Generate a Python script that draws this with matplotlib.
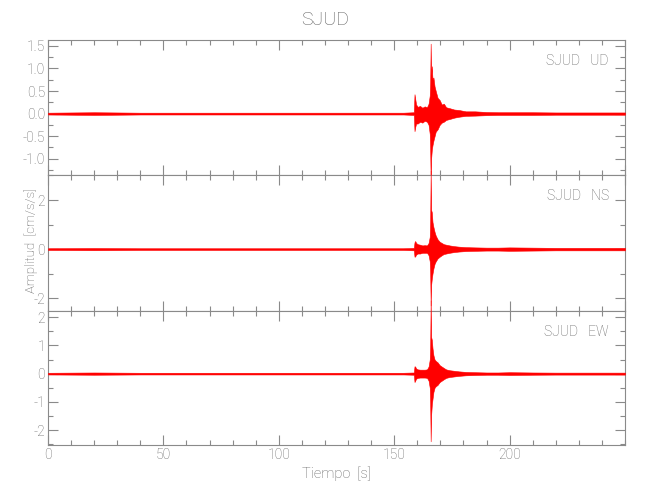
import matplotlib
matplotlib.use('Agg')
import matplotlib.pyplot as plt
from matplotlib.ticker import MultipleLocator, FormatStrFormatter

# ---- data (envelope of each trace) ----
time_s = [0, 10, 20, 30, 40, 50, 60, 70, 80, 90, 100, 110, 120, 130, 140, 150,
          154, 158.5, 158.8, 159.1, 159.5, 160.2, 161.2, 162.2, 163.2, 164.2, 164.9,
          165.4, 165.6, 165.8, 166.0, 166.3, 166.6, 167.0,
          167.5, 168.0, 168.8, 169.7, 170.6, 171.5, 172.5, 174, 176, 178, 181, 185,
          190, 195, 200, 210, 220, 230, 240, 250]

ud_upper = [0.02, 0.025, 0.03, 0.025, 0.02, 0.02, 0.02, 0.02, 0.02, 0.02, 0.02, 0.02, 0.02, 0.02, 0.02, 0.02,
            0.02, 0.03, 0.43, 0.33, 0.2, 0.15, 0.17, 0.13, 0.16, 0.14, 0.22,
            0.4, 0.7, 1.55, 0.85, 1.05, 0.75, 0.8,
            0.6, 0.5, 0.35, 0.3, 0.2, 0.22, 0.14, 0.12, 0.09, 0.08, 0.05, 0.05,
            0.035, 0.03, 0.03, 0.03, 0.025, 0.025, 0.025, 0.025]
ud_lower = [-0.02, -0.025, -0.03, -0.025, -0.02, -0.02, -0.02, -0.02, -0.02, -0.02, -0.02, -0.02, -0.02, -0.02, -0.02, -0.02,
            -0.02, -0.03, -0.39, -0.3, -0.22, -0.22, -0.18, -0.2, -0.16, -0.18, -0.25,
            -0.45, -0.8, -1.5, -1.0, -0.8, -0.7, -0.6,
            -0.5, -0.4, -0.35, -0.25, -0.2, -0.18, -0.14, -0.12, -0.09, -0.07, -0.05, -0.045,
            -0.035, -0.03, -0.03, -0.03, -0.025, -0.025, -0.025, -0.025]

ns_upper = [0.035, 0.04, 0.045, 0.04, 0.035, 0.035, 0.035, 0.035, 0.035, 0.035, 0.035, 0.035, 0.035, 0.035, 0.035, 0.035,
            0.035, 0.05, 0.28, 0.33, 0.25, 0.2, 0.18, 0.15, 0.16, 0.15, 0.25,
            0.5, 1.2, 3.2, 1.6, 1.5, 1.1, 0.9,
            0.7, 0.55, 0.4, 0.3, 0.25, 0.2, 0.18, 0.15, 0.12, 0.1, 0.08, 0.07,
            0.06, 0.06, 0.07, 0.06, 0.05, 0.05, 0.05, 0.05]
ns_lower = [-0.035, -0.04, -0.045, -0.04, -0.035, -0.035, -0.035, -0.035, -0.035, -0.035, -0.035, -0.035, -0.035, -0.035, -0.035, -0.035,
            -0.035, -0.05, -0.31, -0.3, -0.22, -0.18, -0.18, -0.15, -0.15, -0.15, -0.25,
            -0.5, -1.0, -2.3, -1.47, -1.2, -1.0, -0.79,
            -0.6, -0.5, -0.38, -0.31, -0.25, -0.2, -0.18, -0.15, -0.12, -0.1, -0.08, -0.07,
            -0.06, -0.06, -0.07, -0.06, -0.05, -0.05, -0.05, -0.05]

ew_upper = [0.03, 0.035, 0.04, 0.035, 0.03, 0.03, 0.03, 0.03, 0.03, 0.03, 0.03, 0.03, 0.03, 0.03, 0.03, 0.03,
            0.03, 0.04, 0.26, 0.25, 0.18, 0.15, 0.14, 0.14, 0.14, 0.15, 0.25,
            0.5, 1.0, 2.6, 1.3, 1.2, 0.9, 0.65,
            0.5, 0.45, 0.4, 0.3, 0.25, 0.2, 0.15, 0.12, 0.1, 0.08, 0.06, 0.05,
            0.04, 0.04, 0.05, 0.04, 0.035, 0.035, 0.035, 0.035]
ew_lower = [-0.03, -0.035, -0.04, -0.035, -0.03, -0.03, -0.03, -0.03, -0.03, -0.03, -0.03, -0.03, -0.03, -0.03, -0.03, -0.03,
            -0.03, -0.04, -0.3, -0.25, -0.18, -0.15, -0.14, -0.14, -0.14, -0.15, -0.25,
            -0.5, -1.1, -2.4, -1.48, -1.1, -0.9, -0.65,
            -0.5, -0.45, -0.4, -0.3, -0.25, -0.2, -0.15, -0.12, -0.1, -0.08, -0.06, -0.05,
            -0.04, -0.04, -0.05, -0.04, -0.035, -0.035, -0.035, -0.035]

station = "SJUD"
components = ["UD", "NS", "EW"]
x_ticks = [0, 50, 100, 150, 200]

# ---- style ----
plt.rcParams['font.family'] = ['Roboto', 'DejaVu Sans']
plt.rcParams['font.weight'] = 'light'
plt.rcParams['axes.labelweight'] = 'light'
gray = '#8a8a8a'
text_gray = '#626262'
red = '#ff0000'

fig = plt.figure(figsize=(6.5, 5), dpi=100)
W, H = 650.0, 500.0
left, right = 48, 625
rows = [(40, 175), (175, 310.7), (310.7, 445)]
ylims = [(-1.36, 1.63), (-2.51, 3.02), (-2.53, 2.23)]
ymaj = [0.5, 2, 1]
ymin = [0.25, 1, 0.5]
yfmt = ['%.1f', '%d', '%d']
uppers = [ud_upper, ns_upper, ew_upper]
lowers = [ud_lower, ns_lower, ew_lower]

for i, (top, bot) in enumerate(rows):
    ax = fig.add_axes([left / W, 1 - bot / H, (right - left) / W, (bot - top) / H])
    ax.fill_between(time_s, lowers[i], uppers[i], color=red, linewidth=0.4,
                    edgecolor=red, clip_on=False, zorder=3)
    ax.set_xlim(0, 250)
    ax.set_ylim(*ylims[i])
    ax.xaxis.set_major_locator(MultipleLocator(50))
    ax.xaxis.set_minor_locator(MultipleLocator(10))
    ax.yaxis.set_major_locator(MultipleLocator(ymaj[i]))
    ax.yaxis.set_minor_locator(MultipleLocator(ymin[i]))
    ax.yaxis.set_major_formatter(FormatStrFormatter(yfmt[i]))
    ax.tick_params(which='both', direction='in', top=True, right=True,
                   color=gray, labelcolor=text_gray, labelsize=10, width=0.8, pad=2)
    ax.tick_params(which='major', length=7)
    ax.tick_params(which='minor', length=3.5)
    for s in ax.spines.values():
        s.set_color(gray)
        s.set_linewidth(0.8)
    if i < 2:
        ax.tick_params(labelbottom=False)
    else:
        ax.set_xticks(x_ticks)
        ax.set_xlabel('Tiempo  [s]', color=text_gray, fontsize=10.5, labelpad=3,
                      fontweight='light')
    ax.text(0.972, 0.845, f"{station}   {components[i]}", transform=ax.transAxes,
            ha='right', va='center', color=text_gray, fontsize=10)

fig.text(0.5, 1 - 20 / H, station, ha='center', va='center', color=text_gray, fontsize=14)
fig.text(31 / W, 1 - 241 / H, 'Amplitud  [cm/s/s]', rotation=90, ha='center', va='center',
         color=text_gray, fontsize=9.5)

fig.savefig('out.png', dpi=100)
